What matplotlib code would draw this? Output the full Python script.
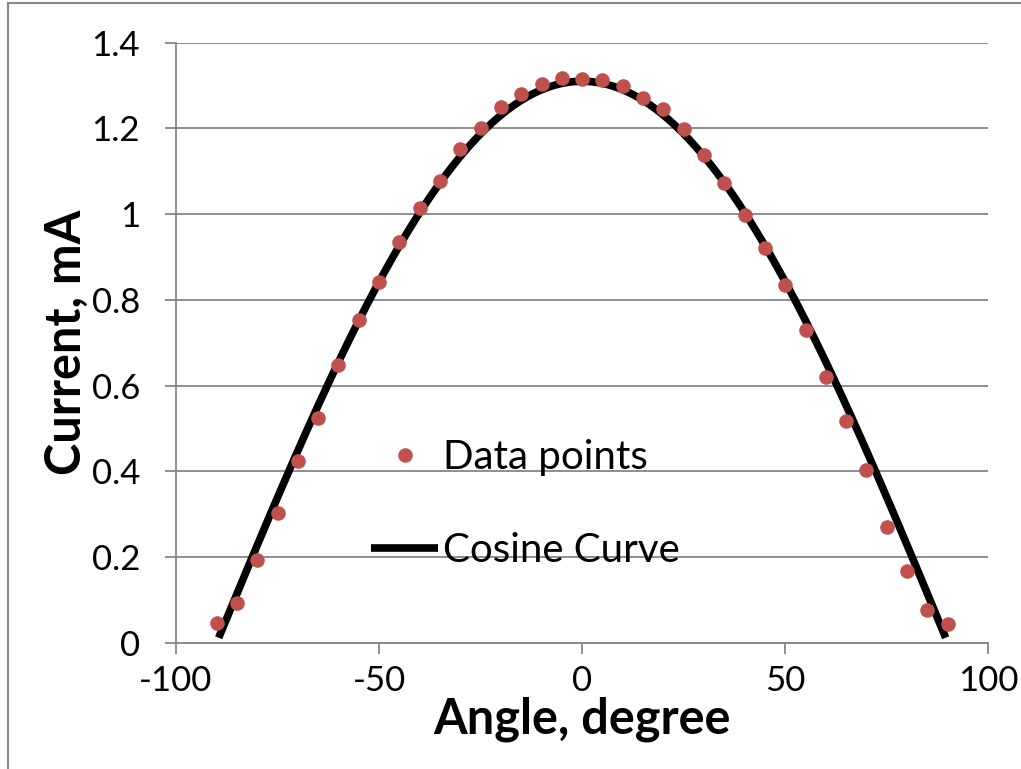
import numpy as np
import matplotlib
matplotlib.use("Agg")
from matplotlib import pyplot as plt
from matplotlib.patches import Rectangle

plt.rcParams['font.family'] = ['Lato', 'DejaVu Sans']
plt.rcParams['axes.unicode_minus'] = False

# measured current vs. angle
angle = [-90, -85, -80, -75, -70, -65, -60, -55, -50, -45, -40, -35, -30, -25, -20,
         -15, -10, -5, 0, 5, 10, 15, 20, 25, 30, 35, 40, 45, 50, 55, 60, 65, 70,
         75, 80, 85, 90]
current = [0.047, 0.093, 0.194, 0.303, 0.425, 0.525, 0.648, 0.752, 0.841, 0.935,
           1.015, 1.078, 1.153, 1.202, 1.250, 1.281, 1.304, 1.318, 1.316, 1.314,
           1.300, 1.272, 1.246, 1.199, 1.139, 1.073, 0.999, 0.922, 0.835, 0.730,
           0.621, 0.518, 0.403, 0.270, 0.168, 0.077, 0.044]

# fitted cosine model
peak_current = 1.31
fit_range = (-89.5, 89.5)

xticks = [-100, -50, 0, 50, 100]
yticks = [0, 0.2, 0.4, 0.6, 0.8, 1.0, 1.2, 1.4]
ytick_labels = ['0', '0.2', '0.4', '0.6', '0.8', '1', '1.2', '1.4']

fig = plt.figure(figsize=(10.21, 7.69), dpi=100)
ax = fig.add_axes([0.1724, 0.1643, 0.7956, 0.7802])

theta = np.linspace(fit_range[0], fit_range[1], 400)
ax.plot(theta, peak_current * np.cos(np.radians(theta)), color='black', lw=5.5,
        label='Cosine Curve', zorder=2, solid_capstyle='butt')
ax.plot(angle, current, 'o', color='#C0504D', markersize=10.5, markeredgewidth=0,
        label='Data points', zorder=3)

ax.set_xlim(-100, 100)
ax.set_ylim(0, 1.4)
ax.set_xticks(xticks)
ax.set_yticks(yticks)
ax.set_yticklabels(ytick_labels)
ax.tick_params(labelsize=25, colors='#868686', labelcolor='black', length=8,
               width=1.3)
ax.tick_params(axis='x', pad=8)
ax.tick_params(axis='y', pad=18)
ax.grid(axis='y', color='#868686', lw=1.3)
ax.set_axisbelow(True)
for side in ['top', 'right']:
    ax.spines[side].set_visible(False)
for side in ['left', 'bottom']:
    ax.spines[side].set_color('#868686')
    ax.spines[side].set_linewidth(1.3)

ax.set_xlabel('Angle, degree', fontsize=35, fontweight='bold', labelpad=0)
ax.set_ylabel('Current, mA', fontsize=35, fontweight='bold', labelpad=2)

handles, labels = ax.get_legend_handles_labels()
ax.legend(handles[::-1], labels[::-1], loc='center left',
          bbox_to_anchor=(0.196, 0.231), frameon=False,
          fontsize=29, handlelength=1.65, handletextpad=0.12, labelspacing=1.4)

fig.patches.append(Rectangle((8 / 1021, -0.05), 1.2, 1.05 - 3 / 769,
                             transform=fig.transFigure, fill=False,
                             edgecolor='#868686', lw=1.5))

fig.savefig('out.png', dpi=100)
